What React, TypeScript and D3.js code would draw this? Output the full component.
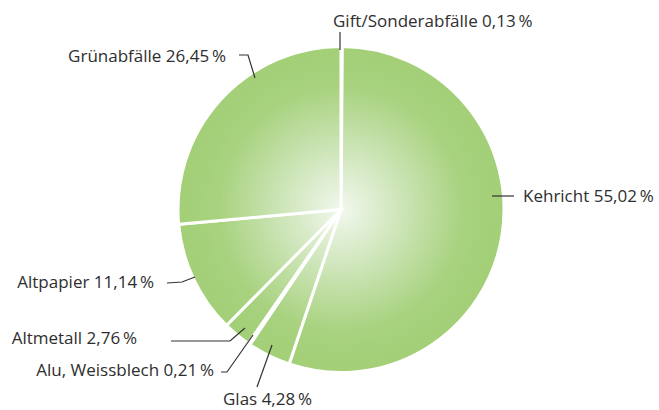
import React from "react";
import * as d3 from "d3";

const categories = ["Gift/Sonderabfälle", "Kehricht", "Glas", "Alu, Weissblech", "Altmetall", "Altpapier", "Grünabfälle"];
const values = [0.13, 55.02, 4.28, 0.21, 2.76, 11.14, 26.45];
const valueLabels = ["0,13", "55,02", "4,28", "0,21", "2,76", "11,14", "26,45"];

// label layout: text anchor point and leader polyline (outer -> inner)
const layout: { tx: number; ty: number; anchor: string; line: [number, number][] }[] = [
  { tx: 333, ty: 27, anchor: "start", line: [[340, 32], [340, 50]] },
  { tx: 523, ty: 202, anchor: "start", line: [[514, 196], [492, 196]] },
  { tx: 223, ty: 405, anchor: "start", line: [[257, 387], [272, 345]] },
  { tx: 214, ty: 376, anchor: "end", line: [[221, 372], [227, 372], [253, 335]] },
  { tx: 137, ty: 344, anchor: "end", line: [[171, 341], [230, 341], [245, 328]] },
  { tx: 154, ty: 288, anchor: "end", line: [[167, 283], [182, 282], [195, 277]] },
  { tx: 226, ty: 62, anchor: "end", line: [[239, 55], [248, 55], [255, 78]] },
];

const W = 659, H = 410;
const cx = 341, cy = 209.5, R = 163;

export default function App() {
  const pie = d3.pie<number>().sort(null).value((d) => d).startAngle(0).endAngle(2 * Math.PI);
  const arcs = pie(values);
  const arc = d3.arc<d3.PieArcDatum<number>>().innerRadius(0).outerRadius(R);
  const line = d3.line();
  return (
    <svg width={W} height={H} style={{ position: "absolute", left: 0, top: 0, background: "#fff" }}>
      <defs>
        <radialGradient id="g" cx={0} cy={0} r={R} gradientUnits="userSpaceOnUse">
          <stop offset="0" stopColor="#f2f8ee" />
          <stop offset="0.35" stopColor="#cfe6bb" />
          <stop offset="0.75" stopColor="#a8d27f" />
          <stop offset="1" stopColor="#a3cf77" />
        </radialGradient>
      </defs>
      <g transform={`translate(${cx},${cy})`}>
        {arcs.map((a, i) => (
          <path key={i} d={arc(a) || ""} fill="url(#g)" stroke="#fff" strokeWidth={3} strokeLinejoin="miter" />
        ))}
      </g>
      {layout.map((l, i) => (
        <g key={i}>
          <path d={line(l.line) || ""} fill="none" stroke="#333" strokeWidth={1.2} />
          <text x={l.tx} y={l.ty} textAnchor={l.anchor} fontFamily="'Open Sans', sans-serif" fontSize={17} fill="#2e2e2e">
            {categories[i]} {valueLabels[i]}{"\u2009"}%
          </text>
        </g>
      ))}
    </svg>
  );
}
